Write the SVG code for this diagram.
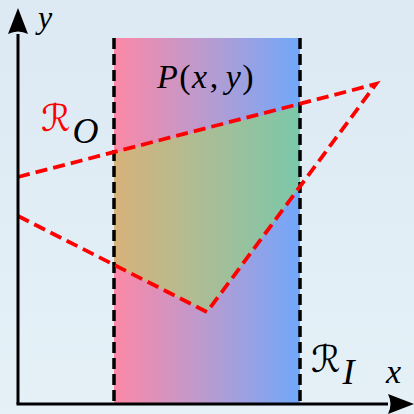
<svg xmlns="http://www.w3.org/2000/svg" width="414" height="414" viewBox="0 0 414 414">
<defs>
<linearGradient id="bg" x1="0" y1="0" x2="0" y2="1"><stop offset="0" stop-color="#dde9f3"/><stop offset="1" stop-color="#e5f1f7"/></linearGradient>
<linearGradient id="band" x1="0" y1="0" x2="1" y2="0"><stop offset="0" stop-color="#fc88a6"/><stop offset="0.5" stop-color="#b99bd0"/><stop offset="1" stop-color="#70a8fa"/></linearGradient>
<linearGradient id="inter" gradientUnits="userSpaceOnUse" x1="114" y1="0" x2="300" y2="0"><stop offset="0" stop-color="#d8b27a"/><stop offset="0.5" stop-color="#aabd96"/><stop offset="1" stop-color="#7ac8aa"/></linearGradient>
</defs>
<style>
.math{font-family:"Liberation Serif","DejaVu Serif",serif;font-style:italic;fill:#000}
.cal{font-family:"DejaVu Serif","DejaVu Sans",serif;}
.band{fill:none;stroke:#000;stroke-width:3.5;stroke-dasharray:11 5}
.red{fill:none;stroke:#ff0000;stroke-width:3.8;stroke-dasharray:12.1 6.06;stroke-linejoin:miter}
.axis{stroke:#000;stroke-width:3;fill:none}
</style>
<rect width="414" height="414" fill="url(#bg)"/>
<g id="band-region">
<rect x="114" y="38" width="186" height="366" fill="url(#band)"/>
<polygon points="114,153 300,106 300,186.5 207,312 114,265" fill="url(#inter)"/>
</g>
<g id="connectors">
<line class="band" x1="114" y1="38" x2="114" y2="404"/>
<line class="band" x1="300" y1="38" x2="300" y2="404"/>
<polyline class="red" points="18,177 376,84 207,312 18,216"/>
<line class="axis" x1="18" y1="404" x2="18" y2="34"/>
<path d="M18,8 L28,34 Q18,29 8,34 Z" fill="#000"/>
<line class="axis" x1="16.5" y1="404" x2="388" y2="404"/>
<path d="M414,404 L388,394 Q393,404 388,414 Z" fill="#000"/>
</g>
<g id="labels">
<text class="math" x="38" y="28" font-size="32">y</text>
<text class="math" x="386" y="383" font-size="34">x</text>
<text x="206" y="88" font-size="34" letter-spacing="1.5" text-anchor="middle" class="math">P<tspan font-style="normal">(</tspan>x<tspan font-style="normal" dx="1">,</tspan><tspan dx="6">y</tspan><tspan font-style="normal">)</tspan></text>
<text x="41" y="131" font-size="37" fill="#ff0000" class="cal">ℛ<tspan class="math" fill="#ff0000" font-size="36" dy="12" dx="2">O</tspan></text>
<text x="311" y="372" font-size="37" fill="#000" class="cal">ℛ<tspan class="math" font-size="36" dy="12" dx="2">I</tspan></text>
</g>
</svg>
